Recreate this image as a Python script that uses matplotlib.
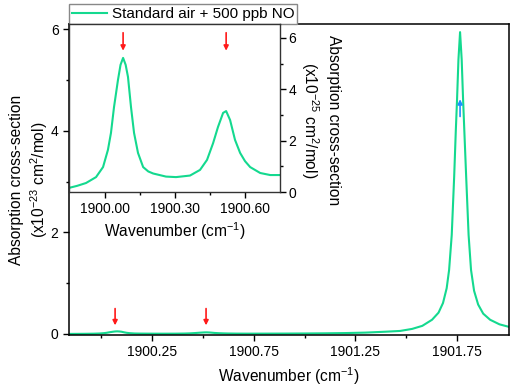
import matplotlib
matplotlib.use("Agg")
import matplotlib.pyplot as plt
import numpy as np
from matplotlib.ticker import FixedLocator, FormatStrFormatter

plt.rcParams["font.family"] = ["Liberation Sans", "DejaVu Sans"]
plt.rcParams["font.size"] = 10
plt.rcParams["mathtext.fontset"] = "custom"
plt.rcParams["mathtext.rm"] = "Liberation Sans"
plt.rcParams["mathtext.it"] = "Liberation Sans:italic"
plt.rcParams["mathtext.bf"] = "Liberation Sans:bold"

# inset: low-wavenumber part of the spectrum (x10^-25 cm2/mol)
inset_wn = [1899.845, 1899.88, 1899.918, 1899.961, 1899.991, 1900.012, 1900.025,
            1900.038, 1900.055, 1900.066, 1900.077, 1900.088, 1900.098, 1900.111,
            1900.124, 1900.141, 1900.163, 1900.185, 1900.206, 1900.261, 1900.304,
            1900.364, 1900.407, 1900.437, 1900.463, 1900.484, 1900.506, 1900.519,
            1900.536, 1900.557, 1900.579, 1900.60, 1900.622, 1900.665, 1900.708,
            1900.75]
inset_xs = [0.16, 0.24, 0.35, 0.58, 0.97, 1.64, 2.30,
            3.30, 4.36, 4.95, 5.22, 4.95, 4.48, 3.30,
            2.30, 1.52, 0.97, 0.80, 0.72, 0.60, 0.58,
            0.64, 0.86, 1.25, 1.90, 2.53, 3.08, 3.15,
            2.80, 2.03, 1.52, 1.20, 0.97, 0.74, 0.66,
            0.66]

# rest of the spectrum up to the strong line (x10^-23 cm2/mol)
tail_wn = [1900.80, 1900.90, 1901.00, 1901.10, 1901.20, 1901.30, 1901.40,
           1901.471, 1901.53, 1901.58, 1901.628, 1901.66, 1901.682, 1901.70,
           1901.712, 1901.725, 1901.737, 1901.745, 1901.751, 1901.758, 1901.766,
           1901.774, 1901.781, 1901.788, 1901.796, 1901.808, 1901.820, 1901.835,
           1901.855, 1901.88, 1901.914, 1901.96, 1902.007]
tail_xs = [0.007, 0.008, 0.010, 0.013, 0.018, 0.027, 0.045,
           0.06, 0.10, 0.16, 0.28, 0.42, 0.61, 0.90,
           1.26, 1.95, 3.10, 4.00, 4.60, 5.40, 5.94,
           5.40, 4.60, 3.90, 3.10, 1.95, 1.26, 0.85,
           0.58, 0.40, 0.28, 0.19, 0.14]

# same spectrum on the main scale (1e-25 -> 1e-23)
main_wn = inset_wn + tail_wn
main_xs = [v / 100 for v in inset_xs] + tail_xs

main_red_arrows = [1900.067, 1900.515]
inset_red_arrows = [1900.077, 1900.519]
blue_arrow = 1901.766

LINE = "#14d98f"
RED = "#ff1a1a"
BLUE = "#1e8fff"
LABEL_FS = 11.2

W, H = 512, 389
fig = plt.figure(figsize=(W / 100, H / 100), dpi=100)
ax = fig.add_axes([69 / W, 1 - 335 / H, 440 / W, 311 / H])
ax.plot(main_wn, main_xs, color=LINE, lw=1.5, label="Standard air + 500 ppb NO")
ax.set_xlim(1899.84, 1902.007)
ax.set_ylim(-0.02, 6.1)
ax.xaxis.set_major_locator(FixedLocator([1900.25, 1900.75, 1901.25, 1901.75]))
ax.xaxis.set_minor_locator(FixedLocator([1900.0, 1900.5, 1901.0, 1901.5]))
ax.xaxis.set_major_formatter(FormatStrFormatter("%.2f"))
ax.yaxis.set_major_locator(FixedLocator([0, 2, 4, 6]))
ax.yaxis.set_minor_locator(FixedLocator([1, 3, 5]))
ax.tick_params(which="major", direction="out", length=4, width=1)
ax.tick_params(which="minor", direction="out", length=2.5, width=1)
for s in ax.spines.values():
    s.set_linewidth(1.1)
ax.set_xlabel("Wavenumber (cm$^{-1}$)", fontsize=LABEL_FS, labelpad=4)
ax.set_ylabel("Absorption cross-section\n(x10$^{-23}$ cm$^{2}$/mol)",
              fontsize=LABEL_FS, linespacing=1.25)
ax.yaxis.set_label_coords(-0.043, 0.5)

for xa in main_red_arrows:
    ax.annotate("", xy=(xa, 0.17), xytext=(xa, 0.5),
                arrowprops=dict(arrowstyle="-|>", color=RED, lw=1.2,
                                mutation_scale=7, shrinkA=0, shrinkB=0))
ax.annotate("", xy=(blue_arrow, 4.62), xytext=(blue_arrow, 4.28),
            arrowprops=dict(arrowstyle="-|>", color=BLUE, lw=1.2,
                            mutation_scale=7, shrinkA=0, shrinkB=0))

leg = ax.legend(loc="lower left", bbox_to_anchor=(0, 1), borderaxespad=0,
                fancybox=False, edgecolor="#888888", framealpha=1,
                fontsize=11, handlelength=2.3, handletextpad=0.3,
                borderpad=0.2)
leg.get_frame().set_linewidth(1.0)

# inset
axi = fig.add_axes([69 / W, 1 - 192 / H, 211 / W, 168 / H])
axi.set_facecolor("white")
axi.plot(inset_wn, inset_xs, color=LINE, lw=1.5)
axi.set_xlim(1899.845, 1900.75)
axi.set_ylim(0, 6.54)
axi.xaxis.set_major_locator(FixedLocator([1900.0, 1900.3, 1900.6]))
axi.xaxis.set_minor_locator(FixedLocator([1900.15, 1900.45]))
axi.xaxis.set_major_formatter(FormatStrFormatter("%.2f"))
axi.yaxis.tick_right()
axi.yaxis.set_label_position("right")
axi.yaxis.set_major_locator(FixedLocator([0, 2, 4, 6]))
axi.yaxis.set_minor_locator(FixedLocator([1, 3, 5]))
axi.tick_params(which="major", direction="out", length=4, width=1)
axi.tick_params(which="minor", direction="out", length=2.5, width=1)
axi.tick_params(axis="y", pad=2)
for s in axi.spines.values():
    s.set_linewidth(1.0)
    s.set_color("#333333")
axi.set_xlabel("Wavenumber (cm$^{-1}$)", fontsize=LABEL_FS, labelpad=3)
axi.set_ylabel("Absorption cross-section\n(x10$^{-25}$ cm$^{2}$/mol)",
               fontsize=LABEL_FS, rotation=270, va="bottom", linespacing=1.35)
axi.yaxis.set_label_coords(1.088, 0.43)

for xa in inset_red_arrows:
    axi.annotate("", xy=(xa, 5.5), xytext=(xa, 6.2),
                 arrowprops=dict(arrowstyle="-|>", color=RED, lw=1.2,
                                 mutation_scale=7, shrinkA=0, shrinkB=0))

fig.savefig("out.png", dpi=100)
